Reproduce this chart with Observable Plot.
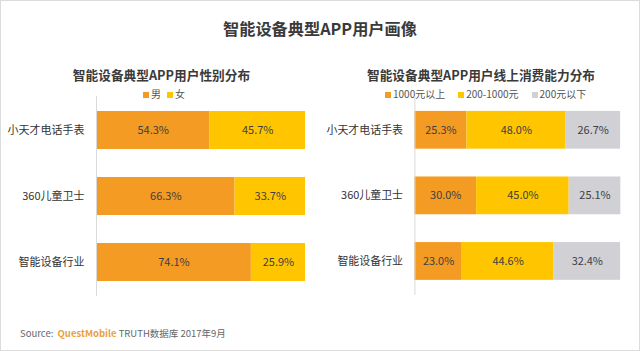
<!DOCTYPE html>
<html><head><meta charset="utf-8">
<script src="https://cdn.jsdelivr.net/npm/d3@7"></script>
<script src="https://cdn.jsdelivr.net/npm/@observablehq/plot@0.6"></script>
<style>
body{margin:0;background:#fff;font-family:"Noto Sans CJK SC","Noto Sans",sans-serif;}
#wrap{position:relative;width:638px;height:349px;border:1px solid #dcdcdc;overflow:hidden;background:#fff;}
.t{position:absolute;white-space:nowrap;color:#333;}
.title{left:0;width:638px;text-align:center;top:15px;font-size:16.2px;font-weight:bold;color:#3a3a3a;}
.sub{top:64px;font-size:12.7px;font-weight:bold;color:#3a3a3a;text-align:center;}
.leg{top:85px;font-size:10px;color:#555;}
.sw{display:inline-block;width:6px;height:6px;margin-right:2px;vertical-align:0px;}
.chart{position:absolute;top:95px;}
.src{left:19px;top:325px;font-size:9.5px;color:#666;}
</style></head>
<body><div id="wrap">
<div class="t title">智能设备典型APP用户画像</div>
<div class="t sub" style="left:0;width:321px;">智能设备典型APP用户性别分布</div>
<div class="t sub" style="left:320px;width:320px;">智能设备典型APP用户线上消费能力分布</div>
<div class="t leg" id="legL" style="left:142px;"></div>
<div class="t leg" id="legR" style="left:384px;"></div>
<div class="chart" id="left" style="left:0;"></div>
<div class="chart" id="right" style="left:320px;"></div>
<div class="t src">Source:&nbsp; <span style="color:#e9a23b;font-weight:bold;">QuestMobile</span> TRUTH数据库 2017年9月</div>
</div>
<script>
const categories = ["小天才电话手表", "360儿童卫士", "智能设备行业"];
const genderSeries = ["男", "女"];
const male = [54.3, 66.3, 74.1];
const female = [45.7, 33.7, 25.9];
const spendSeries = ["1000元以上", "200-1000元", "200元以下"];
const spendHigh = [25.3, 30.0, 23.0];
const spendMid = [48.0, 45.0, 44.6];
const spendLow = [26.7, 25.1, 32.4];

const colors3 = ["#f39b22", "#ffc600", "#d1d0d4"];

function build(series, arrays) {
  const rows = [];
  categories.forEach((c, i) => series.forEach((s, j) => rows.push({cat: c, series: s, value: arrays[j][i]})));
  return rows;
}
function chart(rows, series, colors, mLeft, mRight) {
  return Plot.plot({
    width: 320, height: 200,
    marginTop: 0, marginBottom: 0, marginLeft: mLeft, marginRight: mRight,
    x: {domain: [0, 100], axis: null},
    y: {domain: categories, paddingInner: 0.43, paddingOuter: 0.21, label: null, axis: null},
    color: {domain: series, range: colors},
    style: {fontFamily: '"Noto Sans CJK SC", sans-serif', fontSize: "11px", color: "#333", background: "transparent"},
    marks: [
      Plot.axisY({tickSize: 0, tickPadding: 12, fontSize: 11, label: null, fill: "#333"}),
      Plot.barX(rows, Plot.stackX({x: "value", y: "cat", fill: "series", order: series})),
      Plot.textX(rows, Plot.stackX({x: "value", y: "cat", z: "series", order: series, text: d => d.value.toFixed(1) + "%", fill: "#404040", fontSize: 11})),
      Plot.ruleX([0], {stroke: "#d9d9d9"})
    ]
  });
}
document.getElementById("left").append(chart(build(genderSeries, [male, female]), genderSeries, colors3.slice(0, 2), 95, 16));
document.getElementById("right").append(chart(build(spendSeries, [spendHigh, spendMid, spendLow]), spendSeries, colors3, 94, 19));

function legend(id, series, colors, gap) {
  const el = document.getElementById(id);
  el.innerHTML = series.map((s, i) => `<span style="margin-right:${gap}px"><span class="sw" style="background:${colors[i]}"></span>${s}</span>`).join("");
}
legend("legL", genderSeries, colors3, 6);
legend("legR", spendSeries, colors3, 13);
</script>
</body></html>
